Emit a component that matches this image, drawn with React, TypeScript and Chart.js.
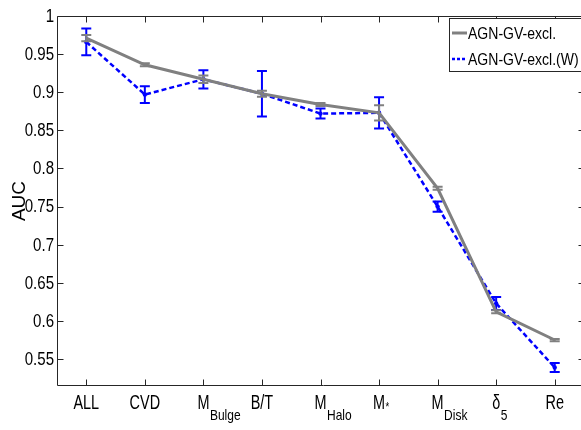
import React, { useEffect, useRef } from 'react';
import { Chart, registerables } from 'chart.js';

Chart.register(...registerables);

// ---- data ----
const labelMain = ['ALL', 'CVD', 'M', 'B/T', 'M', 'M', 'M', 'δ', 'Re'];
const labelSub = ['', '', 'Bulge', '', 'Halo', '*', 'Disk', '5', ''];
const categories = labelMain.map((m, i) => m + labelSub[i]);
const seriesNames = ['AGN-GV-excl.', 'AGN-GV-excl.(W)'];
const aucExcl = [0.971, 0.936, 0.917, 0.898, 0.884, 0.873, 0.774, 0.612, 0.575];
const errExcl = [0.004, 0.002, 0.005, 0.004, 0.002, 0.01, 0.002, 0.002, 0.0015];
const aucExclW = [0.966, 0.897, 0.917, 0.898, 0.872, 0.873, 0.75, 0.623, 0.539];
const errExclW = [0.0175, 0.011, 0.012, 0.0297, 0.0066, 0.0205, 0.0066, 0.0085, 0.006];
const yTicks = [1, 0.95, 0.9, 0.85, 0.8, 0.75, 0.7, 0.65, 0.6, 0.55];
const yTickLabels = ['1', '0.95', '0.9', '0.85', '0.8', '0.75', '0.7', '0.65', '0.6', '0.55'];
const yMin = 0.516;
const yMax = 1;
const yTitle = 'AUC';

const GREY = 'rgb(128,128,128)';
const BLUE = 'rgb(0,0,255)';
const AXIS = '#262626';
const FONT = '"Liberation Sans", Arial, Helvetica, sans-serif';
const errorSets = [errExcl, errExclW];
const errorColors = [GREY, BLUE];

function drawText(ctx: CanvasRenderingContext2D, text: string, x: number, y: number, size: number, sx: number, align: string) {
  ctx.save();
  ctx.font = `${size}px ${FONT}`;
  const w = ctx.measureText(text).width * sx;
  const left = align === 'center' ? x - w / 2 : align === 'right' ? x - w : x;
  ctx.translate(left, y);
  ctx.scale(sx, 1);
  ctx.textAlign = 'left';
  ctx.fillText(text, 0, 0);
  ctx.restore();
  return w;
}

const errorBarPlugin = {
  id: 'errorBars',
  afterDatasetDraw(chart: any, args: any) {
    const idx = args.index;
    const errs = errorSets[idx];
    const vals = chart.data.datasets[idx].data as number[];
    const xs = chart.scales.x;
    const ys = chart.scales.y;
    const ctx = chart.ctx as CanvasRenderingContext2D;
    ctx.save();
    ctx.strokeStyle = errorColors[idx];
    ctx.lineWidth = 2;
    ctx.setLineDash([]);
    const cap = 5;
    vals.forEach((v, i) => {
      const x = xs.getPixelForValue(i);
      const yt = ys.getPixelForValue(v + errs[i]);
      const yb = ys.getPixelForValue(v - errs[i]);
      ctx.beginPath();
      ctx.moveTo(x, yt);
      ctx.lineTo(x, yb);
      ctx.moveTo(x - cap, yt);
      ctx.lineTo(x + cap, yt);
      ctx.moveTo(x - cap, yb);
      ctx.lineTo(x + cap, yb);
      ctx.stroke();
    });
    ctx.restore();
  },
};

const framePlugin = {
  id: 'frame',
  afterDraw(chart: any) {
    const ctx = chart.ctx as CanvasRenderingContext2D;
    const { left, right, top, bottom } = chart.chartArea;
    const xs = chart.scales.x;
    const ys = chart.scales.y;
    const L = Math.round(left) + 0.5;
    const R = Math.round(right) + 0.5;
    const T = Math.round(top) + 0.5;
    const B = Math.round(bottom) + 0.5;
    ctx.save();
    ctx.strokeStyle = AXIS;
    ctx.lineWidth = 1;
    ctx.setLineDash([]);
    ctx.beginPath();
    ctx.moveTo(R + 5, T);
    ctx.lineTo(L, T);
    ctx.lineTo(L, B);
    ctx.lineTo(R + 5, B);
    ctx.stroke();
    const tl = 6;
    ctx.beginPath();
    yTicks.forEach((v) => {
      const y = Math.round(ys.getPixelForValue(v)) + 0.5;
      ctx.moveTo(L, y);
      ctx.lineTo(L + tl, y);
      ctx.moveTo(R, y);
      ctx.lineTo(R - tl, y);
    });
    categories.forEach((_, i) => {
      const x = Math.round(xs.getPixelForValue(i)) + 0.5;
      ctx.moveTo(x, B);
      ctx.lineTo(x, B - tl);
      ctx.moveTo(x, T);
      ctx.lineTo(x, T + tl);
    });
    ctx.stroke();

    // y tick labels
    ctx.fillStyle = '#000';
    ctx.textBaseline = 'middle';
    yTicks.forEach((v, i) => {
      const y = ys.getPixelForValue(v);
      drawText(ctx, yTickLabels[i], left - 3, y + 1, 17.5, 0.86, 'right');
    });

    // x labels
    ctx.textBaseline = 'alphabetic';
    categories.forEach((_, i) => {
      const x = xs.getPixelForValue(i);
      const main = labelMain[i];
      const sub = labelSub[i];
      if (!sub) {
        drawText(ctx, main, x, 409, 19.5, 0.74, 'center');
      } else {
        const w = drawText(ctx, main, x, 409, 19.5, 0.74, 'center');
        if (sub === '*') {
          drawText(ctx, sub, x + w / 2 + 0.5, 411, 12, 0.8, 'left');
        } else {
          drawText(ctx, sub, x + w / 2 + 0.5, 420, 15, 0.8, 'left');
        }
      }
    });

    // y title
    ctx.save();
    ctx.translate(20, 201);
    ctx.rotate(-Math.PI / 2);
    ctx.font = `19px ${FONT}`;
    ctx.textAlign = 'center';
    ctx.textBaseline = 'middle';
    ctx.fillText(yTitle, 0, 0);
    ctx.restore();

    // legend
    const lx = 449.5;
    const ly = 18.5;
    ctx.fillStyle = '#fff';
    ctx.fillRect(lx, ly, 200, 53);
    ctx.strokeStyle = AXIS;
    ctx.lineWidth = 1;
    ctx.strokeRect(lx, ly, 200, 53);
    const rows = [
      { y: 33, color: GREY, dash: [] as number[], width: 3 },
      { y: 59, color: BLUE, dash: [3, 2], width: 2.5 },
    ];
    rows.forEach((r, i) => {
      ctx.save();
      ctx.strokeStyle = r.color;
      ctx.lineWidth = r.width;
      ctx.setLineDash(r.dash);
      ctx.beginPath();
      ctx.moveTo(452, r.y);
      ctx.lineTo(467, r.y);
      ctx.stroke();
      ctx.restore();
      ctx.fillStyle = '#000';
      ctx.textBaseline = 'middle';
      drawText(ctx, seriesNames[i], 468, r.y + 1, 16.5, 0.85, 'left');
    });
    ctx.restore();
  },
};

export default function App() {
  const ref = useRef<HTMLCanvasElement>(null);
  useEffect(() => {
    if (!ref.current) return;
    const chart = new Chart(ref.current, {
      type: 'line',
      data: {
        labels: categories,
        datasets: [
          {
            label: seriesNames[0],
            data: aucExcl,
            borderColor: GREY,
            backgroundColor: GREY,
            borderWidth: 3,
            pointRadius: 0,
            tension: 0,
            fill: false,
          },
          {
            label: seriesNames[1],
            data: aucExclW,
            borderColor: BLUE,
            backgroundColor: BLUE,
            borderWidth: 2.5,
            borderDash: [5, 3],
            pointRadius: 2.2,
            pointBorderWidth: 0,
            pointBackgroundColor: BLUE,
            tension: 0,
            fill: false,
          },
        ],
      },
      options: {
        responsive: false,
        animation: false,
        devicePixelRatio: 1,
        layout: { padding: { top: 16, right: 16, left: 0, bottom: 0 } },
        plugins: { legend: { display: false }, tooltip: { enabled: false } },
        scales: {
          x: {
            type: 'category',
            offset: true,
            grid: { display: false },
            border: { display: false },
            ticks: { display: false },
            afterFit(s: any) {
              s.height = 45;
            },
          },
          y: {
            min: yMin,
            max: yMax,
            grid: { display: false },
            border: { display: false },
            ticks: { display: false },
            afterFit(s: any) {
              s.width = 57;
            },
          },
        },
      },
      plugins: [errorBarPlugin, framePlugin],
    } as any);
    return () => chart.destroy();
  }, []);
  return (
    <div style={{ position: 'fixed', left: 0, top: 0, width: 581, height: 430, overflow: 'hidden', background: '#fff' }}>
      <canvas ref={ref} width={600} height={430} style={{ display: 'block', width: 600, height: 430 }} />
    </div>
  );
}
